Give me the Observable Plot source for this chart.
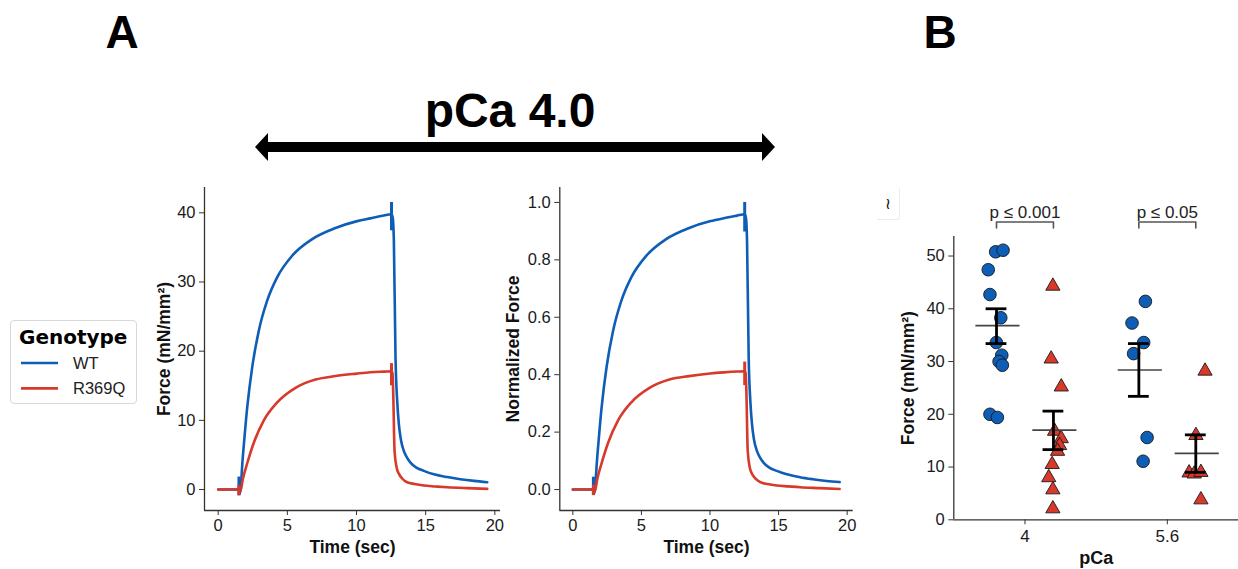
<!DOCTYPE html>
<html><head><meta charset="utf-8">
<script src="https://cdn.jsdelivr.net/npm/d3@7"></script>
<script src="https://cdn.jsdelivr.net/npm/@observablehq/plot@0.6"></script>
<style>
body{margin:0;background:#fff;width:1238px;height:569px;position:relative;overflow:hidden;font-family:"Liberation Sans",Arial,sans-serif;}
.abs{position:absolute}
</style></head><body>
<svg class="abs" style="left:0;top:0" width="1238" height="569" id="deco"></svg>
<div id="legend" class="abs" style="left:10px;top:320px;width:125px;height:82px;border:1px solid #d8d8d8;border-radius:4px;background:#fff"></div>
<div class="abs" style="left:877px;top:188px;width:22px;height:31px;border:1px solid #ececec;border-left:none;border-top:none;border-radius:0 0 3px 0;font:16px 'DejaVu Sans';line-height:31px;text-align:center;color:#111">≀</div>
<div id="p1" class="abs" style="left:140px;top:180px"></div>
<div id="p2" class="abs" style="left:490px;top:180px"></div>
<div id="p3" class="abs" style="left:890px;top:180px"></div>
<script>
// ---------- shared ----------
const genotypes = ["WT", "R369Q"];
const colors = ["#0e5db6", "#d7392a"];

// ---------- Panel A: force traces ----------
const timeWT  = [0, 1.5, 1.56, 1.78, 2.1, 2.46, 2.94, 3.54, 4.27, 5.35, 6.8, 8.48, 10.05, 11.0, 11.97, 12.53, 12.62, 12.7, 12.82, 12.95, 13.06, 13.2, 13.42, 13.65, 13.9, 14.3, 14.87, 15.6, 16.56, 17.5, 18.5, 19.45];
const forceWT = [0, 0, -0.6, 4.7, 11.9, 17.7, 23.0, 27.3, 30.7, 33.8, 36.2, 37.8, 38.8, 39.2, 39.6, 39.8, 39.3, 36.0, 19.1, 12.5, 9.5, 7.3, 5.6, 4.6, 3.9, 3.2, 2.7, 2.2, 1.8, 1.5, 1.25, 1.06];
const normWT  = [0, 0, -0.014, 0.113, 0.287, 0.427, 0.554, 0.658, 0.740, 0.814, 0.872, 0.911, 0.935, 0.945, 0.954, 0.959, 0.947, 0.867, 0.460, 0.301, 0.229, 0.176, 0.135, 0.111, 0.094, 0.077, 0.065, 0.053, 0.043, 0.036, 0.030, 0.026];

const timeR369Q  = [0, 1.5, 1.6, 1.78, 2.1, 2.58, 3.3, 4.27, 5.59, 7.04, 8.48, 10.0, 11.0, 12.0, 12.53, 12.6, 12.65, 12.75, 12.9, 13.06, 13.3, 13.66, 14.2, 14.87, 15.7, 16.56, 18.0, 19.45];
const forceR369Q = [0, 0, -0.3, 1.5, 3.8, 6.8, 10.0, 12.6, 14.7, 15.9, 16.4, 16.75, 16.95, 17.05, 17.1, 16.8, 14.3, 5.6, 3.2, 2.3, 1.6, 1.06, 0.8, 0.58, 0.45, 0.33, 0.2, 0.1];
const normR369Q  = [0, 0, -0.007, 0.036, 0.092, 0.164, 0.241, 0.304, 0.354, 0.383, 0.395, 0.404, 0.408, 0.411, 0.412, 0.405, 0.345, 0.135, 0.077, 0.055, 0.039, 0.026, 0.019, 0.014, 0.011, 0.008, 0.005, 0.002];

// stimulus artefacts (short vertical marks in each trace)
const artefactTime = [1.5, 12.53];
const artefactForceWT    = [[-0.9, 1.8], [37.4, 41.5]];
const artefactForceR369Q = [[-0.9, 0.6], [15.0, 18.2]];
const artefactNormWT     = [[-0.021, 0.043], [0.897, 1.0]];
const artefactNormR369Q  = [[-0.021, 0.015], [0.362, 0.444]];

const timeTicks = [0, 5, 10, 15, 20];
const forceTicks = [0, 10, 20, 30, 40];
const normTicks = [0, 0.2, 0.4, 0.6, 0.8, 1.0];

// ---------- Panel B: peak force ----------
const pCaLevels = ["4", "5.6"];
const forceWT_pCa4     = [50.8, 51.1, 47.4, 42.7, 38.3, 33.6, 31.2, 30.0, 29.3, 20.0, 19.4];
const jitterWT_pCa4    = [-0.006, 0.046, -0.058, -0.046, 0.030, -0.001, 0.037, 0.018, 0.041, -0.046, 0.006];
const forceR369Q_pCa4  = [44.3, 30.5, 25.2, 16.8, 15.4, 14.1, 13.0, 10.5, 8.0, 5.7, 2.1];
const jitterR369Q_pCa4 = [-0.004, -0.016, 0.055, 0.008, 0.055, 0.043, 0.029, -0.009, -0.033, -0.004, -0.004];
const forceWT_pCa56     = [41.4, 37.3, 33.6, 31.5, 15.6, 11.1];
const jitterWT_pCa56    = [0.046, -0.048, 0.034, -0.037, 0.058, 0.030];
const forceR369Q_pCa56  = [28.2, 16.0, 8.9, 8.7, 9.0, 3.8];
const jitterR369Q_pCa56 = [0.065, 0.001, -0.047, -0.011, 0.036, 0.036];

const meanWT = [36.8, 28.4], semLowWT = [33.4, 23.4], semHighWT = [40.0, 33.4];
const meanR369Q = [17.0, 12.6], semLowR369Q = [13.3, 9.0], semHighR369Q = [20.6, 16.1];
const pValueLabels = ["p ≤ 0.001", "p ≤ 0.05"];
const peakForceTicks = [0, 10, 20, 30, 40, 50];

// ---------- build tables ----------
const traceRows = [
  ...timeWT.map((t, i) => ({t, force: forceWT[i], norm: normWT[i], g: "WT"})),
  ...timeR369Q.map((t, i) => ({t, force: forceR369Q[i], norm: normR369Q[i], g: "R369Q"}))
];
const artefactRows = [];
artefactTime.forEach((t, i) => {
  artefactRows.push({t, g: "WT", force: artefactForceWT[i], norm: artefactNormWT[i]});
  artefactRows.push({t, g: "R369Q", force: artefactForceR369Q[i], norm: artefactNormR369Q[i]});
});

const FONT = "Liberation Sans, Arial, sans-serif";
const AX = "#333";

function tracePanel({key, yDomain, xDomain, yTicks, yFormat, yLabel, mL, mR, yLabelDx}) {
  const W = 370, H = 380;
  return Plot.plot({
    width: W, height: H,
    marginLeft: mL, marginRight: mR, marginTop: 7, marginBottom: 50,
    x: {domain: xDomain}, y: {domain: yDomain},
    color: {domain: genotypes, range: colors},
    style: {fontFamily: FONT, fontSize: "16.5px", color: "#1a1a1a", background: "transparent", overflow: "visible"},
    marks: [
      Plot.ruleX([xDomain[0]], {stroke: AX, strokeWidth: 1.3}),
      Plot.ruleY([yDomain[0]], {stroke: AX, strokeWidth: 1.3}),
      Plot.axisX({ticks: timeTicks, tickSize: 5, tickPadding: 4, label: null, stroke: AX, fontSize: 16.5}),
      Plot.axisY({ticks: yTicks, tickSize: 5, tickPadding: 4, label: null, stroke: AX, tickFormat: yFormat, fontSize: 16.5}),
      Plot.line(traceRows, {x: "t", y: key, z: "g", stroke: "g", strokeWidth: 2.6, curve: "monotone-x"}),
      Plot.ruleX(artefactRows, {x: "t", y1: d => d[key][0], y2: d => d[key][1], stroke: "g", strokeWidth: 3}),
      Plot.text(["Time (sec)"], {frameAnchor: "bottom", dy: 37, lineAnchor: "middle", textAnchor: "middle", fontWeight: "bold", fontSize: 17.5, fill: "#111"}),
      Plot.text([yLabel], {frameAnchor: "left", dx: yLabelDx, rotate: -90, lineAnchor: "middle", textAnchor: "middle", fontWeight: "bold", fontSize: 17.5, fill: "#111"})
    ]
  });
}

document.getElementById("p1").append(tracePanel({
  key: "force", xDomain: [-0.99, 20.41], yDomain: [-3.03, 43.66], yTicks: forceTicks, yFormat: d => d,
  yLabel: "Force (mN/mm²)", mL: 64, mR: 10, yLabelDx: -40
}));
document.getElementById("p2").append(tracePanel({
  key: "norm", xDomain: [-0.95, 20.44], yDomain: [-0.073, 1.052], yTicks: normTicks, yFormat: d3.format(".1f"),
  yLabel: "Normalized Force", mL: 69.3, mR: 7.3, yLabelDx: -46
}));

// ---------- Panel B ----------
const groupOffset = {WT: -0.2, R369Q: 0.2};
const pointRows = [];
function addPts(vals, jit, g, lvl) {
  vals.forEach((v, i) => pointRows.push({g, lvl, force: v, x: lvl + groupOffset[g] + jit[i]}));
}
addPts(forceWT_pCa4, jitterWT_pCa4, "WT", 0);
addPts(forceR369Q_pCa4, jitterR369Q_pCa4, "R369Q", 0);
addPts(forceWT_pCa56, jitterWT_pCa56, "WT", 1);
addPts(forceR369Q_pCa56, jitterR369Q_pCa56, "R369Q", 1);

const summaryRows = [];
pCaLevels.forEach((p, i) => {
  summaryRows.push({g: "WT", x: i + groupOffset.WT, mean: meanWT[i], lo: semLowWT[i], hi: semHighWT[i]});
  summaryRows.push({g: "R369Q", x: i + groupOffset.R369Q, mean: meanR369Q[i], lo: semLowR369Q[i], hi: semHighR369Q[i]});
});

const bracketRows = [];
pValueLabels.forEach((lab, i) => {
  const a = i + groupOffset.WT, b = i + groupOffset.R369Q;
  [[a, 55.3], [a, 56.45], [b, 56.45], [b, 55.3]].forEach(([x, y]) => bracketRows.push({x, y, k: i}));
});

const p3 = Plot.plot({
  width: 348, height: 389,
  marginLeft: 63.3, marginRight: 0, marginTop: 56, marginBottom: 49.7,
  x: {domain: [-0.5, 1.5]}, y: {domain: [0, 53.7]},
  style: {fontFamily: FONT, fontSize: "16.5px", color: "#1a1a1a", background: "transparent", overflow: "visible"},
  marks: [
    Plot.ruleX([-0.5], {stroke: AX, strokeWidth: 1.3}),
    Plot.ruleY([0], {stroke: AX, strokeWidth: 1.3}),
    Plot.axisX({ticks: [0, 1], tickFormat: i => pCaLevels[i], tickSize: 5, tickPadding: 5, label: null, stroke: AX, fontSize: 17}),
    Plot.axisY({ticks: peakForceTicks, tickSize: 5, tickPadding: 4, label: null, stroke: AX, fontSize: 16.5}),
    Plot.dot(pointRows.filter(d => d.g === "WT"), {x: "x", y: "force", r: 6.3, fill: colors[0], stroke: "#1a1a1a", strokeWidth: 0.9}),
    Plot.dot(pointRows.filter(d => d.g === "R369Q"), {x: "x", y: "force", r: 5.3, symbol: "triangle", fill: colors[1], stroke: "#1a1a1a", strokeWidth: 0.9}),
    Plot.ruleY(summaryRows, {y: "mean", x1: d => d.x - 0.145, x2: d => d.x + 0.165, stroke: "#444", strokeWidth: 1.6}),
    Plot.ruleX(summaryRows, {x: "x", y1: "lo", y2: "hi", stroke: "#000", strokeWidth: 2.8}),
    Plot.ruleY(summaryRows, {y: "lo", x1: d => d.x - 0.073, x2: d => d.x + 0.073, stroke: "#000", strokeWidth: 2.8}),
    Plot.ruleY(summaryRows, {y: "hi", x1: d => d.x - 0.073, x2: d => d.x + 0.073, stroke: "#000", strokeWidth: 2.8}),
    Plot.line(bracketRows, {x: "x", y: "y", z: "k", stroke: "#555", strokeWidth: 1.6}),
    Plot.text(pValueLabels, {x: (d, i) => i, y: 58.3, text: d => d, fontSize: 17, fill: "#222", lineAnchor: "middle"}),
    Plot.text(["pCa"], {frameAnchor: "bottom", dy: 38.5, lineAnchor: "middle", textAnchor: "middle", fontWeight: "bold", fontSize: 18, fill: "#111"}),
    Plot.text(["Force (mN/mm²)"], {frameAnchor: "left", dx: -45, rotate: -90, lineAnchor: "middle", textAnchor: "middle", fontWeight: "bold", fontSize: 17.5, fill: "#111"})
  ]
});
document.getElementById("p3").append(p3);

// ---------- decorations: panel letters, condition arrow ----------
const deco = d3.select("#deco");
deco.append("text").attr("x", 122).attr("y", 48).attr("text-anchor", "middle")
  .attr("font-family", FONT).attr("font-weight", "bold").attr("font-size", 46).text("A");
deco.append("text").attr("x", 940).attr("y", 48).attr("text-anchor", "middle")
  .attr("font-family", FONT).attr("font-weight", "bold").attr("font-size", 46).text("B");
deco.append("text").attr("x", 510).attr("y", 127).attr("text-anchor", "middle")
  .attr("font-family", FONT).attr("font-weight", "bold").attr("font-size", 48).text("pCa 4.0");
deco.append("rect").attr("x", 266).attr("y", 142).attr("width", 498).attr("height", 10).attr("fill", "#000");
deco.append("polygon").attr("points", "255,147 268,133 268,161").attr("fill", "#000");
deco.append("polygon").attr("points", "775,147 762,133 762,161").attr("fill", "#000");

// ---------- legend ----------
const lg = d3.select("#legend").append("svg").attr("width", 125).attr("height", 82);
lg.append("text").attr("x", 8).attr("y", 23).attr("font-family", "DejaVu Sans").attr("font-weight", "bold")
  .attr("font-size", 20).text("Genotype");
genotypes.forEach((g, i) => {
  const y = 42 + i * 25.4;
  lg.append("line").attr("x1", 10).attr("x2", 47).attr("y1", y).attr("y2", y)
    .attr("stroke", colors[i]).attr("stroke-width", 2.6);
  lg.append("text").attr("x", 62).attr("y", y).attr("dy", "0.36em").attr("font-family", FONT)
    .attr("font-size", 16.5).attr("fill", "#222").text(g);
});
</script>
</body></html>
